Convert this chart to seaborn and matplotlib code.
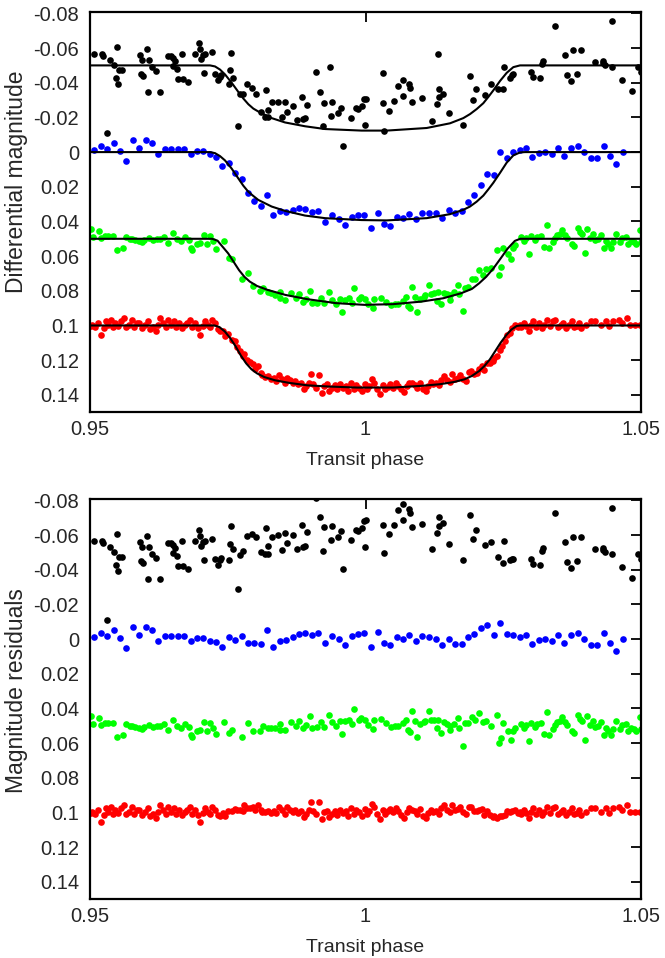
import matplotlib
matplotlib.use("Agg")
import matplotlib.pyplot as plt
import seaborn as sns
import pandas as pd

# ---------------- data ----------------
# black series: phase, light curve, residual (panel b)
black_phase = [0.95079,0.95212,0.95242,0.95302,0.95363,0.95436,0.95466,0.95496,0.95502,0.95532,0.95575,
 0.95907,0.95920,0.95938,0.95968,0.96041,0.96059,0.96077,0.96119,0.96192,0.96270,0.96422,0.96470,0.96512,
 0.96515,0.96543,0.96573,0.96603,0.96676,0.96694,0.96785,0.96906,0.96978,0.96996,0.97015,0.97057,0.97075,
 0.97087,0.97208,
 0.97269,0.97317,0.97359,0.97377,0.97523,0.97547,0.97553,0.97589,0.97692,0.97722,0.97783,0.97855,0.97946,
 0.98007,0.98103,0.98176,0.98188,0.98224,0.98230,0.98297,0.98406,0.98479,0.98539,0.98569,0.98690,0.98751,
 0.98854,0.98866,0.98902,0.98932,0.99102,0.99180,0.99223,0.99241,0.99356,0.99374,0.99398,0.99507,0.99549,
 0.99598,0.99731,0.99822,0.99858,0.99930,0.99969,0.99994,1.00018,1.00311,1.00323,1.00342,1.00432,1.00517,
 1.00584,1.00674,1.00686,1.00795,1.00807,1.00838,1.01019,1.01207,1.01304,1.01322,1.01334,1.01340,1.01400,
 1.01521,1.01763,1.01896,1.01945,1.01999,1.02169,1.02271,1.02411,1.02501,1.02505,1.02622,1.02653,1.02683,
 1.02997,1.03046,1.03167,1.03197,1.03227,1.03439,1.03621,1.03663,1.03736,1.03772,1.03832,1.03917,1.04165,
 1.04304,1.04316,1.04346,1.04467,1.04480,1.04661,1.04831,1.04952,1.04995]
black_mag = [-0.0566,-0.0566,-0.0556,-0.0109,-0.0533,-0.0505,-0.0429,-0.0604,-0.0390,-0.0476,-0.0476,
 -0.0562,-0.0451,-0.0533,-0.0438,-0.0594,-0.0349,-0.0530,-0.0490,-0.0470,-0.0345,-0.0556,-0.0552,-0.0543,
 -0.0495,-0.0528,-0.0482,-0.0423,-0.0566,-0.0421,-0.0404,-0.0566,-0.0629,-0.0596,-0.0537,-0.0562,-0.0457,
 -0.0566,-0.0577,
 -0.0453,-0.0413,-0.0432,-0.0442,-0.0390,-0.0474,-0.0573,-0.0429,-0.0150,-0.0333,-0.0333,-0.0392,-0.0370,
 -0.0335,-0.0234,-0.0204,-0.0356,-0.0244,-0.0200,-0.0291,-0.0291,-0.0200,-0.0291,-0.0232,-0.0267,-0.0185,
 -0.0318,-0.0190,-0.0194,-0.0272,-0.0461,-0.0345,-0.0150,-0.0284,-0.0493,-0.0206,-0.0290,-0.0223,-0.0253,
 -0.0034,-0.0198,-0.0253,-0.0248,-0.0267,-0.0305,-0.0154,-0.0309,-0.0455,-0.0284,-0.0124,-0.0238,-0.0293,
 -0.0381,-0.0324,-0.0415,-0.0394,-0.0371,-0.0291,-0.0312,-0.0177,-0.0276,-0.0568,-0.0366,-0.0318,-0.0337,
 -0.0225,-0.0158,-0.0436,-0.0303,-0.0364,-0.0331,-0.0390,-0.0366,-0.0366,-0.0490,-0.0429,-0.0442,-0.0450,
 -0.0461,-0.0432,-0.0429,-0.0509,-0.0524,-0.0730,-0.0558,-0.0442,-0.0410,-0.0587,-0.0451,-0.0590,-0.0522,
 -0.0524,-0.0512,-0.0503,-0.0493,-0.0758,-0.0417,-0.0350,-0.0493,-0.0461]
black_resid = [-0.0566,-0.0566,-0.0556,-0.0109,-0.0533,-0.0505,-0.0429,-0.0604,-0.0390,-0.0476,-0.0476,
 -0.0562,-0.0451,-0.0533,-0.0438,-0.0594,-0.0349,-0.0530,-0.0490,-0.0470,-0.0345,-0.0556,-0.0552,-0.0543,
 -0.0495,-0.0528,-0.0482,-0.0423,-0.0566,-0.0421,-0.0404,-0.0566,-0.0629,-0.0596,-0.0537,-0.0562,-0.0457,
 -0.0566,-0.0577,
 -0.0461,-0.0428,-0.0455,-0.0468,-0.0458,-0.0551,-0.0652,-0.0521,-0.0291,-0.0485,-0.0508,-0.0593,-0.0605,
 -0.0587,-0.0505,-0.0488,-0.0642,-0.0535,-0.0491,-0.0590,-0.0599,-0.0516,-0.0612,-0.0555,-0.0600,-0.0522,
 -0.0660,-0.0533,-0.0539,-0.0619,-0.0816,-0.0702,-0.0510,-0.0645,-0.0858,-0.0571,-0.0655,-0.0591,-0.0622,
 -0.0404,-0.0570,-0.0627,-0.0622,-0.0643,-0.0681,-0.0530,-0.0685,-0.0829,-0.0658,-0.0498,-0.0608,-0.0660,
 -0.0746,-0.0687,-0.0778,-0.0753,-0.0730,-0.0649,-0.0664,-0.0519,-0.0613,-0.0905,-0.0702,-0.0654,-0.0668,
 -0.0546,-0.0455,-0.0718,-0.0579,-0.0627,-0.0542,-0.0559,-0.0475,-0.0441,-0.0565,-0.0455,-0.0461,-0.0461,
 -0.0461,-0.0432,-0.0429,-0.0509,-0.0524,-0.0730,-0.0558,-0.0442,-0.0410,-0.0587,-0.0451,-0.0590,-0.0522,
 -0.0524,-0.0512,-0.0503,-0.0493,-0.0758,-0.0417,-0.0350,-0.0493,-0.0461]

blue_phase = [0.95079,0.95194,0.95315,0.95430,0.95538,0.95659,0.95786,0.95895,0.96010,0.96125,0.96240,
 0.96361,0.96470,0.96591,0.96706,0.96827,0.96942,0.97057,0.97172,
 0.97287,0.97402,0.97523,0.97638,0.97753,0.97868,0.97982,0.98103,0.98212,0.98327,0.98448,0.98563,0.98678,
 0.98793,0.98908,0.99029,0.99144,0.99265,0.99392,0.99519,0.99634,0.99749,0.99864,0.99979,1.00100,1.00221,
 1.00336,1.00444,1.00565,1.00674,1.00795,1.00910,1.01025,1.01152,1.01279,1.01394,1.01509,1.01630,1.01745,
 1.01866,1.01975,1.02096,1.02205,1.02326,1.02441,1.02562,1.02683,1.02798,
 1.02907,1.03028,1.03149,1.03264,1.03378,1.03493,1.03608,1.03729,1.03850,1.03971,1.04086,1.04201,1.04322,
 1.04437,1.04552,1.04673]
blue_mag = [-0.0010,-0.0034,-0.0017,-0.0053,-0.0006,0.0051,-0.0069,-0.0025,-0.0067,-0.0055,0.0010,
 -0.0017,-0.0015,-0.0015,-0.0019,0.0013,-0.0006,-0.0004,0.0011,
 0.0029,0.0080,0.0061,0.0122,0.0158,0.0238,0.0282,0.0310,0.0248,0.0362,0.0341,0.0347,0.0335,
 0.0324,0.0328,0.0345,0.0341,0.0402,0.0364,0.0387,0.0423,0.0375,0.0362,0.0362,0.0438,0.0354,
 0.0415,0.0425,0.0373,0.0381,0.0356,0.0385,0.0354,0.0349,0.0352,0.0381,0.0335,0.0354,0.0341,
 0.0286,0.0250,0.0190,0.0126,0.0133,0.0000,0.0034,0.0000,-0.0011,
 -0.0023,0.0029,0.0006,0.0000,0.0010,-0.0023,0.0025,-0.0023,-0.0034,0.0000,0.0034,0.0034,-0.0034,
 0.0025,0.0070,0.0000]
blue_resid = [-0.0010,-0.0034,-0.0017,-0.0053,-0.0006,0.0051,-0.0069,-0.0025,-0.0067,-0.0055,0.0010,
 -0.0017,-0.0015,-0.0015,-0.0019,0.0013,-0.0006,-0.0004,0.0011,
 0.0018,0.0048,-0.0010,0.0004,-0.0016,0.0021,0.0023,0.0026,-0.0054,0.0046,0.0012,0.0007,-0.0014,
 -0.0031,-0.0034,-0.0025,-0.0034,0.0022,-0.0020,0.0000,0.0034,-0.0017,-0.0032,-0.0033,0.0043,-0.0040,
 0.0023,0.0036,-0.0013,-0.0002,-0.0022,0.0011,-0.0015,-0.0013,-0.0003,0.0034,-0.0002,0.0028,0.0028,
 -0.0014,-0.0030,-0.0063,-0.0079,-0.0025,-0.0095,-0.0027,-0.0022,-0.0013,
 -0.0023,0.0029,0.0006,0.0000,0.0010,-0.0023,0.0025,-0.0023,-0.0034,0.0000,0.0034,0.0034,-0.0034,
 0.0025,0.0070,0.0000]

green_phase = [0.95026,0.95052,0.95156,0.95202,0.95267,0.95332,0.95416,0.95494,0.95592,0.95657,0.95722,
 0.95767,0.95819,0.95884,0.95949,0.95982,0.96066,0.96144,0.96209,0.96274,0.96339,0.96417,0.96502,0.96586,
 0.96651,0.96717,0.96795,0.96827,0.96860,0.96938,0.96990,0.97074,0.97120,0.97185,0.97237,
 0.97295,0.97432,0.97529,0.97575,0.97750,0.97867,0.97965,0.98082,0.98147,0.98225,0.98290,0.98355,0.98440,
 0.98453,0.98537,0.98648,0.98732,0.98797,0.98862,0.98927,0.98992,0.99038,0.99122,0.99200,0.99252,0.99343,
 0.99395,0.99460,0.99538,0.99577,0.99623,0.99707,0.99753,0.99798,0.99883,0.99915,0.99993,1.00045,1.00143,
 1.00163,1.00273,1.00371,1.00468,1.00533,1.00598,1.00683,1.00728,1.00774,1.00813,1.00839,1.00891,1.00943,
 1.00988,1.01053,1.01086,1.01151,1.01183,1.01248,1.01294,1.01313,1.01378,1.01424,1.01476,1.01528,1.01541,
 1.01606,1.01671,1.01704,1.01769,1.01801,1.01853,1.01931,1.01996,1.02061,1.02126,1.02191,1.02269,1.02386,
 1.02419,1.02451,1.02503,1.02581,1.02633,1.02679,1.02711,
 1.02828,1.02874,1.02919,1.02971,1.03004,1.03069,1.03114,1.03179,1.03231,1.03296,1.03329,1.03394,1.03439,
 1.03478,1.03524,1.03570,1.03622,1.03654,1.03739,1.03784,1.03849,1.03895,1.03934,1.03979,1.04025,1.04077,
 1.04129,1.04174,1.04220,1.04272,1.04324,1.04369,1.04402,1.04454,1.04499,1.04545,1.04610,1.04662,1.04727,
 1.04759,1.04824,1.04870,1.04909,1.04974,1.04995]
green_mag = [0.0446,0.0490,0.0455,0.0494,0.0486,0.0484,0.0484,0.0566,0.0553,0.0490,0.0503,
 0.0499,0.0509,0.0513,0.0518,0.0505,0.0494,0.0509,0.0499,0.0503,0.0490,0.0522,0.0467,0.0499,
 0.0513,0.0490,0.0509,0.0551,0.0562,0.0528,0.0522,0.0480,0.0532,0.0486,0.0515,
 0.0560,0.0515,0.0610,0.0614,0.0734,0.0696,0.0772,0.0799,0.0785,0.0808,0.0814,0.0824,0.0805,
 0.0843,0.0852,0.0810,0.0843,0.0818,0.0862,0.0848,0.0801,0.0871,0.0868,0.0843,0.0873,0.0806,
 0.0852,0.0875,0.0848,0.0921,0.0852,0.0843,0.0871,0.0784,0.0847,0.0837,0.0848,0.0877,0.0900,
 0.0848,0.0843,0.0862,0.0881,0.0877,0.0875,0.0856,0.0837,0.0890,0.0902,0.0776,0.0837,0.0925,
 0.0848,0.0833,0.0824,0.0766,0.0818,0.0810,0.0856,0.0805,0.0877,0.0810,0.0818,0.0852,0.0824,
 0.0808,0.0766,0.0818,0.0919,0.0782,0.0776,0.0732,0.0734,0.0681,0.0709,0.0677,0.0671,0.0566,
 0.0709,0.0665,0.0556,0.0585,0.0619,0.0556,0.0534,
 0.0490,0.0513,0.0494,0.0585,0.0486,0.0509,0.0490,0.0486,0.0547,0.0423,0.0551,0.0518,0.0494,
 0.0480,0.0471,0.0452,0.0480,0.0494,0.0528,0.0543,0.0436,0.0461,0.0474,0.0581,0.0442,0.0494,
 0.0471,0.0509,0.0499,0.0480,0.0551,0.0513,0.0528,0.0551,0.0518,0.0471,0.0518,0.0494,0.0490,
 0.0528,0.0513,0.0518,0.0528,0.0452,0.0518]
green_resid = [0.0446,0.0490,0.0455,0.0494,0.0486,0.0484,0.0484,0.0566,0.0553,0.0490,0.0503,
 0.0499,0.0509,0.0513,0.0518,0.0505,0.0494,0.0509,0.0499,0.0503,0.0490,0.0522,0.0467,0.0499,
 0.0513,0.0490,0.0509,0.0551,0.0562,0.0528,0.0522,0.0480,0.0532,0.0486,0.0515,
 0.0549,0.0481,0.0541,0.0526,0.0566,0.0486,0.0531,0.0528,0.0502,0.0514,0.0512,0.0515,0.0488,
 0.0526,0.0527,0.0476,0.0503,0.0474,0.0514,0.0497,0.0446,0.0512,0.0505,0.0478,0.0506,0.0435,
 0.0480,0.0502,0.0473,0.0545,0.0475,0.0465,0.0492,0.0404,0.0466,0.0455,0.0466,0.0495,0.0518,
 0.0466,0.0463,0.0484,0.0505,0.0503,0.0503,0.0486,0.0468,0.0523,0.0537,0.0412,0.0475,0.0565,
 0.0490,0.0478,0.0470,0.0416,0.0469,0.0466,0.0514,0.0464,0.0540,0.0476,0.0489,0.0527,0.0500,
 0.0491,0.0457,0.0512,0.0617,0.0484,0.0484,0.0449,0.0467,0.0427,0.0476,0.0471,0.0499,0.0440,
 0.0602,0.0573,0.0483,0.0532,0.0581,0.0529,0.0515,
 0.0490,0.0513,0.0494,0.0585,0.0486,0.0509,0.0490,0.0486,0.0547,0.0423,0.0551,0.0518,0.0494,
 0.0480,0.0471,0.0452,0.0480,0.0494,0.0528,0.0543,0.0436,0.0461,0.0474,0.0581,0.0442,0.0494,
 0.0471,0.0509,0.0499,0.0480,0.0551,0.0513,0.0528,0.0551,0.0518,0.0471,0.0518,0.0494,0.0490,
 0.0528,0.0513,0.0518,0.0528,0.0452,0.0518]

red_phase = [0.95010,0.95039,0.95091,0.95137,0.95202,0.95247,0.95286,0.95332,0.95377,0.95416,0.95462,
 0.95507,0.95559,0.95611,0.95657,0.95702,0.95754,0.95806,0.95852,0.95897,0.95949,0.96001,0.96047,0.96092,
 0.96144,0.96196,0.96242,0.96274,0.96326,0.96372,0.96417,0.96469,0.96521,0.96567,0.96612,0.96664,0.96717,
 0.96762,0.96808,0.96860,0.96912,0.96957,0.96990,0.97042,0.97087,0.97133,0.97185,0.97217,0.97263,
 0.97315,0.97367,0.97412,0.97458,0.97510,0.97575,0.97627,0.97672,0.97718,0.97770,0.97802,0.97848,0.97900,
 0.97952,0.97997,0.98043,0.98095,0.98127,0.98173,
 0.98238,0.98290,0.98336,0.98381,0.98433,0.98485,0.98531,0.98576,0.98628,0.98680,0.98726,0.98771,0.98823,
 0.98875,0.98921,0.98966,0.99006,0.99051,0.99097,0.99150,0.99202,0.99247,0.99293,0.99345,0.99397,0.99443,
 0.99488,0.99540,0.99592,0.99638,0.99684,0.99736,0.99788,0.99834,0.99879,0.99932,0.99984,1.00029,1.00062,
 1.00114,1.00160,1.00205,1.00257,1.00309,1.00355,1.00400,1.00452,1.00504,1.00550,1.00595,1.00647,1.00699,
 1.00745,1.00790,1.00843,1.00895,1.00940,1.00986,1.01038,1.01090,1.01135,1.01181,1.01233,1.01285,1.01331,
 1.01376,1.01428,1.01480,1.01526,1.01572,1.01624,1.01676,1.01722,1.01767,1.01820,1.01872,1.01917,1.01963,
 1.02015,1.02067,1.02113,1.02158,1.02210,1.02262,1.02308,1.02340,1.02392,1.02438,1.02470,1.02523,1.02568,
 1.02614,1.02666,1.02718,1.02764,1.02809,
 1.02828,1.02874,1.02919,1.02971,1.03004,1.03049,1.03101,1.03153,1.03199,1.03244,1.03296,1.03348,1.03394,
 1.03439,1.03491,1.03544,1.03589,1.03635,1.03687,1.03739,1.03784,1.03830,1.03882,1.03914,1.03999,1.04090,
 1.04174,1.04272,1.04369,1.04415,1.04499,1.04597,1.04662,1.04740,1.04792,1.04890,1.04987]
red_mag = [0.1002,0.0996,0.1006,0.0987,0.1053,0.1015,0.0973,0.0996,0.0968,0.1010,0.0987,
 0.1002,0.0977,0.0958,0.1010,0.0996,0.0968,0.1006,0.0987,0.0983,0.1015,0.0996,0.0977,0.1021,
 0.1006,0.1029,0.0996,0.0958,0.0987,0.1006,0.0968,0.0996,0.0977,0.1010,0.0987,0.1015,0.0996,
 0.0983,0.0968,0.1006,0.0987,0.1015,0.1053,0.1002,0.0977,0.0996,0.1010,0.0971,0.0987,
 0.1021,0.1034,0.1029,0.1063,0.1048,0.1082,0.1092,0.1124,0.1149,0.1177,0.1162,0.1200,0.1212,
 0.1225,0.1250,0.1235,0.1273,0.1288,0.1296,
 0.1290,0.1311,0.1302,0.1321,0.1288,0.1311,0.1334,0.1302,0.1315,0.1330,0.1321,0.1340,0.1334,
 0.1368,0.1349,0.1330,0.1282,0.1340,0.1359,0.1288,0.1387,0.1349,0.1340,0.1378,0.1359,0.1345,
 0.1368,0.1340,0.1359,0.1349,0.1378,0.1330,0.1368,0.1345,0.1359,0.1378,0.1340,0.1368,0.1349,
 0.1311,0.1330,0.1365,0.1397,0.1345,0.1368,0.1353,0.1340,0.1359,0.1334,0.1349,0.1368,0.1384,
 0.1349,0.1330,0.1334,0.1345,0.1359,0.1330,0.1368,0.1378,0.1349,0.1326,0.1340,0.1330,0.1345,
 0.1315,0.1292,0.1315,0.1326,0.1282,0.1311,0.1302,0.1288,0.1311,0.1321,0.1269,0.1263,0.1282,
 0.1273,0.1250,0.1235,0.1258,0.1216,0.1219,0.1206,0.1187,0.1174,0.1139,0.1120,0.1092,0.1053,
 0.1044,0.1015,0.0996,0.1006,0.0996,
 0.1010,0.0987,0.1002,0.1034,0.0996,0.0977,0.1006,0.0987,0.1015,0.0996,0.0968,0.1002,0.0977,
 0.0968,0.1010,0.0996,0.0987,0.1015,0.0996,0.0977,0.1006,0.1002,0.0987,0.1015,0.0996,0.0977,
 0.0973,0.0996,0.0973,0.1002,0.0977,0.0968,0.0987,0.0958,0.0996,0.0996,0.0996]
red_resid = [0.1002,0.0996,0.1006,0.0987,0.1053,0.1015,0.0973,0.0996,0.0968,0.1010,0.0987,
 0.1002,0.0977,0.0958,0.1010,0.0996,0.0968,0.1006,0.0987,0.0983,0.1015,0.0996,0.0977,0.1021,
 0.1006,0.1029,0.0996,0.0958,0.0987,0.1006,0.0968,0.0996,0.0977,0.1010,0.0987,0.1015,0.0996,
 0.0983,0.0968,0.1006,0.0987,0.1015,0.1053,0.1002,0.0977,0.0996,0.1010,0.0971,0.0987,
 0.1015,0.1019,0.1002,0.1023,0.0989,0.0994,0.0981,0.0987,0.0987,0.0989,0.0958,0.0977,0.0973,
 0.0968,0.0983,0.0956,0.0987,0.0996,0.0996,
 0.0989,0.1002,0.0989,0.1004,0.0968,0.0987,0.1008,0.0971,0.0983,0.0996,0.0985,0.1002,0.0994,
 0.1025,0.1006,0.0985,0.0937,0.0992,0.1011,0.0939,0.1038,0.0998,0.0989,0.1025,0.1006,0.0990,
 0.1013,0.0985,0.1004,0.0992,0.1021,0.0973,0.1010,0.0987,0.1000,0.1019,0.0981,0.1010,0.0990,
 0.0952,0.0971,0.1006,0.1038,0.0987,0.1010,0.0994,0.0981,0.1000,0.0977,0.0992,0.1013,0.1029,
 0.0996,0.0977,0.0983,0.0994,0.1008,0.0981,0.1019,0.1031,0.1004,0.0983,0.0996,0.0989,0.1006,
 0.0977,0.0956,0.0983,0.0996,0.0954,0.0985,0.0979,0.0969,0.0996,0.1010,0.0966,0.0966,0.0992,
 0.0994,0.0983,0.0981,0.1017,0.0994,0.1017,0.1025,0.1023,0.1034,0.1023,0.1019,0.1013,0.0994,
 0.1000,0.0990,0.0985,0.1002,0.0996,
 0.1010,0.0987,0.1002,0.1034,0.0996,0.0977,0.1006,0.0987,0.1015,0.0996,0.0968,0.1002,0.0977,
 0.0968,0.1010,0.0996,0.0987,0.1015,0.0996,0.0977,0.1006,0.1002,0.0987,0.1015,0.0996,0.0977,
 0.0973,0.0996,0.0973,0.1002,0.0977,0.0968,0.0987,0.0958,0.0996,0.0996,0.0996]

# fitted model curves
black_model_phase = [0.95,0.97178,0.97269,0.97359,0.97450,0.97571,0.97692,0.97783,0.97874,0.97964,0.98055,
 0.98297,0.98539,0.98902,0.99265,0.99930,1.00384,1.01110,1.01533,1.01775,1.01896,1.02017,1.02138,1.02229,
 1.02320,1.02441,1.02562,1.02683,1.02804,1.05]
black_model = [-0.0500,-0.0500,-0.0494,-0.0476,-0.0448,-0.0400,-0.0347,-0.0309,-0.0276,-0.0251,-0.0234,
 -0.0196,-0.0171,-0.0149,-0.0133,-0.0124,-0.0124,-0.0139,-0.0166,-0.0196,-0.0219,-0.0248,-0.0282,-0.0318,
 -0.0356,-0.0410,-0.0457,-0.0490,-0.0500,-0.0500]
blue_model_phase = [0.95,0.97178,0.97269,0.97359,0.97450,0.97571,0.97692,0.97783,0.97874,0.97964,0.98055,
 0.98297,0.98539,0.98902,0.99265,0.99930,1.00384,1.01110,1.01533,1.01775,1.01896,1.02017,1.02138,1.02229,
 1.02320,1.02441,1.02562,1.02683,1.02804,1.02895,1.05]
blue_model = [0.0,0.0,0.0006,0.0023,0.0048,0.0095,0.0152,0.0194,0.0229,0.0253,0.0276,
 0.0314,0.0339,0.0366,0.0381,0.0392,0.0394,0.0381,0.0358,0.0333,0.0314,0.0286,0.0251,0.0215,
 0.0177,0.0120,0.0061,0.0019,0.0002,0.0,0.0]
green_model_phase = [0.95,0.97217,0.97315,0.97412,0.97510,0.97607,0.97705,0.97802,0.97900,0.98030,0.98225,
 0.98550,0.98940,0.99460,0.99980,1.00501,1.01021,1.01411,1.01736,1.01931,1.02061,1.02191,1.02321,1.02451,
 1.02581,1.02711,1.02809,1.05]
green_model = [0.0500,0.0500,0.0511,0.0548,0.0585,0.0633,0.0681,0.0719,0.0747,0.0772,0.0795,
 0.0824,0.0848,0.0871,0.0881,0.0877,0.0862,0.0843,0.0814,0.0789,0.0757,0.0719,0.0671,0.0614,
 0.0556,0.0512,0.0500,0.0500]
red_model_phase = [0.95,0.97263,0.97347,0.97445,0.97542,0.97640,0.97737,0.97835,0.97932,0.98030,0.98160,
 0.98355,0.98615,0.98940,0.99330,0.99850,1.00501,1.01021,1.01346,1.01606,1.01801,1.01931,1.02061,1.02158,
 1.02256,1.02354,1.02451,1.02549,1.02646,1.02744,1.02809,1.05]
red_model = [0.1000,0.1000,0.1009,0.1034,0.1072,0.1119,0.1173,0.1219,0.1253,0.1276,0.1297,
 0.1316,0.1331,0.1345,0.1352,0.1358,0.1358,0.1348,0.1339,0.1326,0.1310,0.1291,0.1263,0.1234,
 0.1196,0.1148,0.1100,0.1058,0.1024,0.1003,0.1000,0.1000]

x_ticks = [0.95, 1.0, 1.05]
x_ticklabels = ["0.95", "1", "1.05"]
y_ticks = [-0.08, -0.06, -0.04, -0.02, 0.0, 0.02, 0.04, 0.06, 0.08, 0.10, 0.12, 0.14]
y_ticklabels = ["-0.08", "-0.06", "-0.04", "-0.02", "0", "0.02", "0.04", "0.06", "0.08", "0.1", "0.12", "0.14"]

# ---------------- plotting ----------------
sns.set_style("white")
plt.rcParams['font.family'] = ['Liberation Sans', 'DejaVu Sans']
plt.rcParams['font.size'] = 14

fig = plt.figure(figsize=(6.65, 9.58), dpi=100)
ax1 = fig.add_axes([90/665, 1-412/958, 551/665, 400/958])
ax2 = fig.add_axes([90/665, 1-899/958, 551/665, 400/958])

series = [
    (black_phase, black_mag, black_resid, "#000000", black_model_phase, black_model),
    (blue_phase, blue_mag, blue_resid, "#0000ff", blue_model_phase, blue_model),
    (green_phase, green_mag, green_resid, "#00ff00", green_model_phase, green_model),
    (red_phase, red_mag, red_resid, "#ff0000", red_model_phase, red_model),
]

dot = 23
for ph, mag, res, col, mph, mod in series:
    df = pd.DataFrame({"phase": ph, "mag": mag, "resid": res})
    sns.scatterplot(data=df, x="phase", y="mag", ax=ax1, color=col, s=dot,
                    linewidth=0, zorder=2, legend=False)
    sns.scatterplot(data=df, x="phase", y="resid", ax=ax2, color=col, s=dot,
                    linewidth=0, zorder=2, legend=False)
    mdf = pd.DataFrame({"phase": mph, "model": mod})
    sns.lineplot(data=mdf, x="phase", y="model", ax=ax1, color="black", lw=1.5,
                 sort=False, estimator=None, zorder=3)

for ax, lab, ly in [(ax1, "Differential magnitude", 0.575), (ax2, "Magnitude residuals", 0.52)]:
    ax.set_xlim(0.95, 1.05)
    ax.set_ylim(0.1499, -0.0808)
    ax.set_xticks(x_ticks)
    ax.set_xticklabels(x_ticklabels)
    ax.set_yticks(y_ticks)
    ax.set_yticklabels(y_ticklabels)
    ax.tick_params(axis='both', direction='in', length=7, width=1.3,
                   top=True, right=True, labelsize=14.5, color='black')
    ax.tick_params(axis='y', pad=8)
    ax.tick_params(axis='x', pad=6)
    for sp in ax.spines.values():
        sp.set_linewidth(1.6)
        sp.set_color('black')
    ax.set_xlabel("Transit phase", fontsize=14)
    ax.set_ylabel(lab, fontsize=16.5)
    ax.xaxis.set_label_coords(0.5, -0.1)
    ax.yaxis.set_label_coords(-0.112, ly)

fig.savefig("out.png", dpi=100)
